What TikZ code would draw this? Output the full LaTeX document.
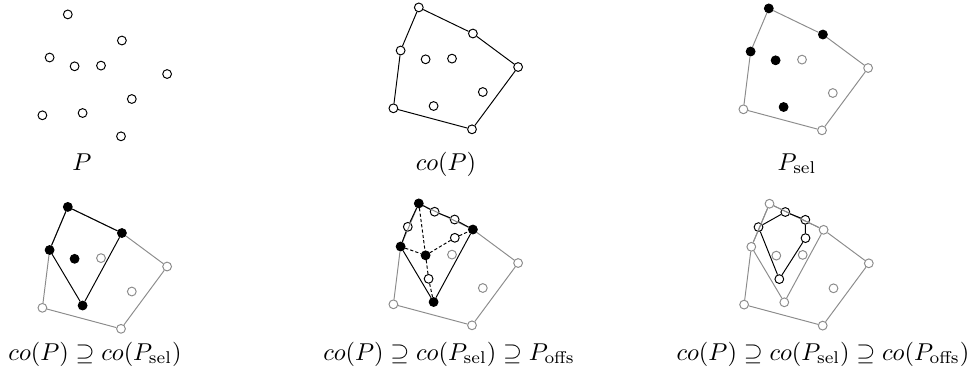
\documentclass[tikz,border=0pt]{standalone}
\usepackage{amsmath,amssymb}
\usepackage{tikz}
\usetikzlibrary{calc}
\tikzset{
  pt/.style       = {circle, draw, fill=white, inner sep=0pt, minimum size=3.6pt},
  selpt/.style    = {pt, fill=black},
  faintpt/.style  = {pt, draw=black!45},
  hull/.style     = {black},
  fainthull/.style= {black!45},
  triedge/.style  = {dash pattern=on 1.3pt off 0.9pt},
  lbl/.style      = {anchor=base},
}
% #1 prefix, #2 style of the other points, #3 style of the selected points
\newcommand{\pointset}[3]{%
  \node[#3] (#1-1)  at ( 67.8,   7.4) {};
  \node[#3] (#1-2)  at (121.9,  33.5) {};
  \node[#3] (#1-3)  at ( 49.6,  50.5) {};
  \node[#3] (#1-4)  at ( 74.6,  59.3) {};
  \node[#2] (#1-5)  at (101.0,  58.6) {};
  \node[#2] (#1-6)  at (167.1,  67.0) {};
  \node[#2] (#1-7)  at (131.8,  92.0) {};
  \node[#3] (#1-8)  at ( 82.6, 106.0) {};
  \node[#2] (#1-9)  at ( 42.4, 108.3) {};
  \node[#2] (#1-10) at (121.0, 129.3) {};
}
\newcommand{\offsset}[1]{%
  \node[pt] (#1-a) at ( 83.6, 15.7) {};
  \node[pt] (#1-b) at (103.6, 23.5) {};
  \node[pt] (#1-c) at ( 56.8, 30.8) {};
  \node[pt] (#1-d) at (103.8, 41.8) {};
  \node[pt] (#1-e) at ( 77.6, 82.8) {};
}
\newcommand{\outerhull}[2]{%
  \draw[#2] (#1-1) -- (#1-2) -- (#1-6) -- (#1-10) -- (#1-9) -- (#1-3) -- (#1-1);
}
\newcommand{\selhull}[2]{%
  \draw[#2] (#1-1) -- (#1-2) -- (#1-8) -- (#1-3) -- (#1-1);
}

\begin{document}
\begin{tikzpicture}[x=0.41pt, y=-0.41pt]
  \useasboundingbox (0,0) rectangle (973,376);
  % top row
  \begin{scope}[shift={(0,7)}]
    \pointset{pa}{pt}{pt}
  \end{scope}
  \begin{scope}[shift={(351,0)}]
    \pointset{pb}{pt}{pt}
    \outerhull{pb}{hull}
  \end{scope}
  \begin{scope}[shift={(701,1)}]
    \pointset{pc}{faintpt}{selpt}
    \outerhull{pc}{fainthull}
  \end{scope}
  \node[lbl] (la) at ( 82,170) {$P$};
  \node[lbl] (lb) at (446,170) {$co(P)$};
  \node[lbl] (lc) at (797,170) {$P_{\mathrm{sel}}$};
  % bottom row
  \begin{scope}[shift={(0,199.5)}]
    \pointset{pd}{faintpt}{selpt}
    \outerhull{pd}{fainthull}
    \selhull{pd}{hull}
  \end{scope}
  \begin{scope}[shift={(351,196)}]
    \pointset{pe}{faintpt}{selpt}
    \offsset{pe}
    \outerhull{pe}{fainthull}
    \draw[hull] (pe-1) -- (pe-a) -- (pe-b) -- (pe-2) -- (pe-8) -- (pe-3) -- (pe-c) -- (pe-1);
    \draw[triedge] (pe-1) -- (pe-4);
    \draw[triedge] (pe-3) -- (pe-4);
    \draw[triedge] (pe-4) -- (pe-d) -- (pe-2);
    \draw[triedge] (pe-4) -- (pe-e) -- (pe-8);
  \end{scope}
  \begin{scope}[shift={(701.7,196.3)}]
    \pointset{pf}{faintpt}{faintpt}
    \offsset{pf}
    \outerhull{pf}{fainthull}
    \selhull{pf}{fainthull}
    \draw[hull] (pf-c) -- (pf-a) -- (pf-b) -- (pf-d) -- (pf-e) -- (pf-c);
  \end{scope}
  \node[lbl] (ld) at ( 95,360) {$co(P)\supseteq co(P_{\mathrm{sel}})$};
  \node[lbl] (le) at (449,360) {$co(P)\supseteq co(P_{\mathrm{sel}})\supseteq P_{\mathrm{offs}}$};
  \node[lbl] (lf) at (823,360) {$co(P)\supseteq co(P_{\mathrm{sel}})\supseteq co(P_{\mathrm{offs}})$};
\end{tikzpicture}
\end{document}
